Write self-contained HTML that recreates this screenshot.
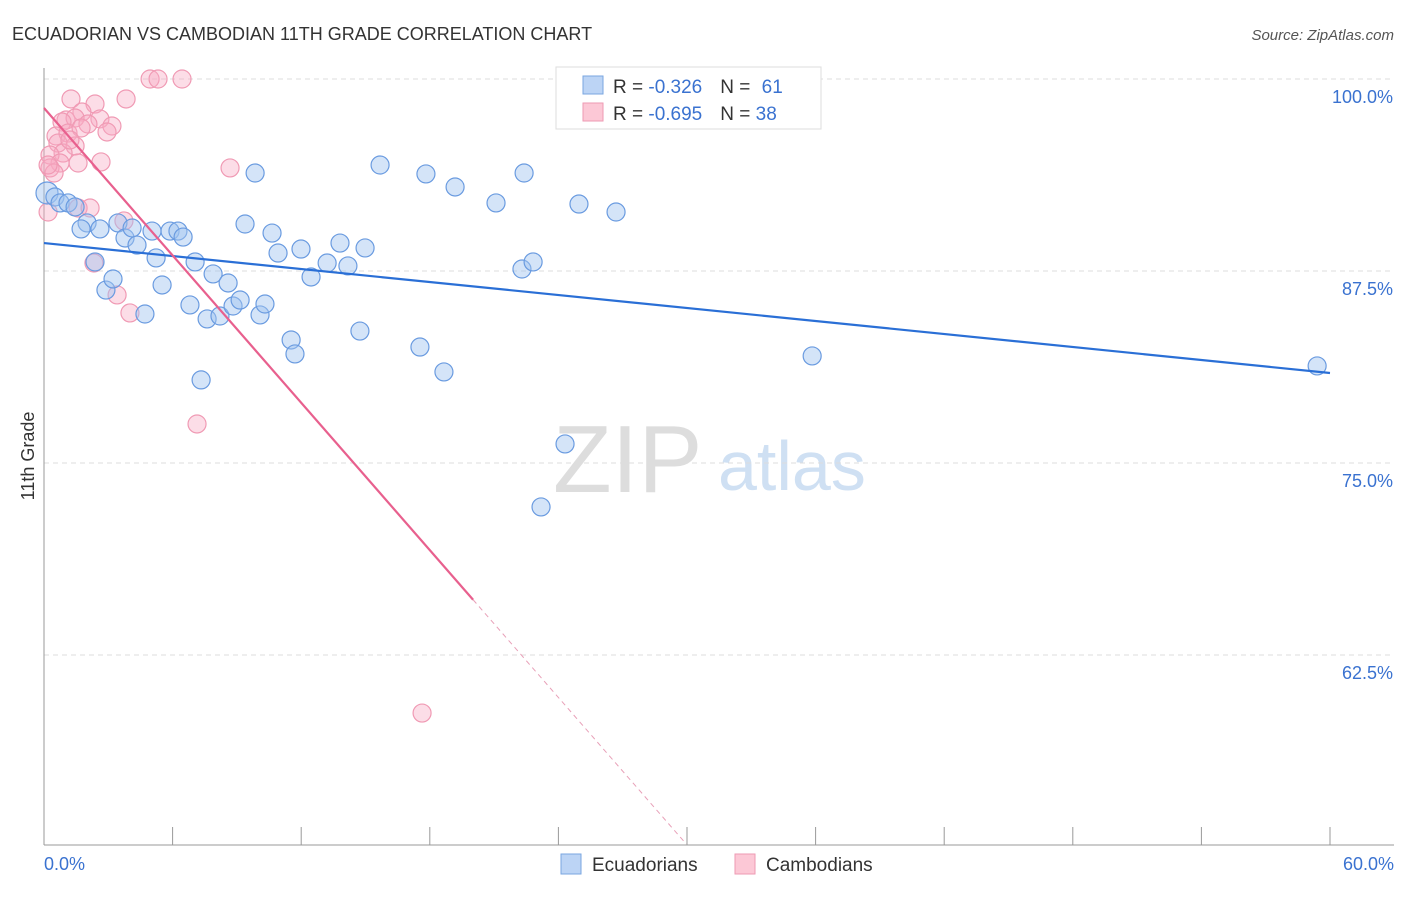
<!DOCTYPE html>
<html><head><meta charset="utf-8"><style>
body{margin:0;background:#fff;font-family:"Liberation Sans",sans-serif}
svg text{font-family:"Liberation Sans",sans-serif}
</style></head><body>
<svg id="chart" width="1406" height="892" viewBox="0 0 1406 892">
<text x="12" y="40" font-size="18" fill="#333">ECUADORIAN VS CAMBODIAN 11TH GRADE CORRELATION CHART</text>
<text x="1394" y="40" font-size="15" fill="#555" font-style="italic" text-anchor="end">Source: ZipAtlas.com</text>
<g>
<text x="553" y="492" font-size="96" fill="#ddd" font-family="Liberation Serif">ZIP</text>
<text x="718" y="490" font-size="70" fill="#cfe0f3">atlas</text>
</g>
<g id="grid"></g><g id="axes"></g><g id="marks"></g>
<text transform="translate(34,456) rotate(-90)" font-size="18" fill="#333" text-anchor="middle">11th Grade</text>
<g>
<rect x="556" y="67" width="265" height="62" fill="#fff" stroke="#ddd"/>
<rect x="583" y="76" width="20" height="18" fill="#bcd4f5" stroke="#7aa6e0"/>
<rect x="583" y="103" width="20" height="18" fill="#fcc8d6" stroke="#ee9ab3"/>
<text x="613" y="93" font-size="19" fill="#333">R = <tspan fill="#3a72d0">-0.326</tspan><tspan dx="18">N = </tspan><tspan fill="#3a72d0" dx="6">61</tspan></text>
<text x="613" y="120" font-size="19" fill="#333">R = <tspan fill="#3a72d0">-0.695</tspan><tspan dx="18">N = </tspan><tspan fill="#3a72d0">38</tspan></text>
</g>
<g>
<rect x="561" y="854" width="20" height="20" fill="#bcd4f5" stroke="#7aa6e0"/>
<text x="592" y="871" font-size="19" fill="#333">Ecuadorians</text>
<rect x="735" y="854" width="20" height="20" fill="#fcc8d6" stroke="#ee9ab3"/>
<text x="766" y="871" font-size="19" fill="#333">Cambodians</text>
</g>
</svg>
<script>
const yTicks=[100,87.5,75,62.5];
const yTickLabels=["100.0%","87.5%","75.0%","62.5%"];
const xEnds=["0.0%","60.0%"];
const blueX=[0.14,0.51,0.75,1.12,1.45,2.01,1.73,2.61,2.38,2.89,3.22,3.45,3.78,4.11,4.34,4.71,5.04,5.23,5.51,5.88,6.25,6.49,6.81,7.05,7.61,7.89,8.21,8.59,8.82,9.15,9.38,9.85,10.08,10.31,10.64,10.92,11.53,11.71,11.99,12.46,13.21,13.81,14.18,14.74,14.98,15.68,17.54,17.82,18.66,19.18,21.09,22.30,22.40,22.82,24.31,23.19,24.96,26.69,35.84,59.40,7.33];
const blueY=[92.58,92.32,91.93,91.93,91.67,90.63,90.24,90.24,88.09,86.26,86.98,90.63,89.65,90.30,89.19,84.70,90.10,88.35,86.59,90.10,90.10,89.71,85.29,88.09,84.38,87.31,84.57,86.72,85.22,85.61,90.56,93.88,84.64,85.35,89.97,88.67,83.01,82.10,88.93,87.11,88.02,89.32,87.83,83.59,89.00,94.40,82.55,93.82,80.93,92.97,91.93,87.63,93.88,88.09,76.24,72.14,91.86,91.34,81.97,81.32,80.41];
const pinkX=[4.95,5.32,6.44,1.26,2.38,3.83,1.77,1.03,1.45,0.84,2.61,3.17,2.05,2.94,0.56,1.12,1.73,0.65,1.45,0.89,0.28,0.75,1.59,2.66,0.28,0.47,8.68,1.59,0.19,3.73,2.33,3.41,4.01,7.14,17.64,0.19,1.21,2.15];
const pinkY=[100,100,100,98.70,98.37,98.70,97.85,97.33,97.46,97.20,97.40,96.94,97.07,96.55,96.29,96.48,96.81,95.83,95.64,95.18,95.05,94.53,94.53,94.60,94.21,93.88,94.21,91.60,91.34,90.76,88.02,85.94,84.77,77.54,58.72,94.40,96.03,91.60];
const blueLine=[89.32,80.86];
const pinkLine=[98.11,-1.599,20.02];
const X=v=>44+v/60*1286, Y=v=>79+(100-v)/12.5*192;
const NS="http://www.w3.org/2000/svg";
function mk(p,t,a){const e=document.createElementNS(NS,t);for(const k in a)e.setAttribute(k,a[k]);document.getElementById(p).appendChild(e);return e;}
yTicks.forEach((t,i)=>{
 const g=mk('grid','line',{x1:44,x2:1394,y1:Y(t),y2:Y(t),stroke:'#ddd','stroke-dasharray':'5,4'});
 
 
 const l=mk('axes','text',{x:1393,y:Y(t)+24,'font-size':18,fill:'#3a72d0','text-anchor':'end'});l.textContent=yTickLabels[i];
 
 
});
const ax=mk('axes','line',{x1:44,x2:44,y1:68,y2:845,stroke:'#999'});


const bx=mk('axes','line',{x1:44,x2:1394,y1:845,y2:845,stroke:'#999'});


for(let i=0;i<=10;i++){const t=mk('axes','line',{x1:X(i*6),x2:X(i*6),y1:827,y2:845,stroke:'#999'});
 
 }
[[0,'start',44],[60,'end',1394]].forEach((d,i)=>{const l=mk('axes','text',{x:d[2],y:870,'font-size':18,fill:'#3a72d0','text-anchor':d[1]});l.textContent=xEnds[i];
 
 });
pinkX.forEach((v,i)=>{const c=mk('marks','circle',{cx:X(v),cy:Y(pinkY[i]),r:9,fill:'rgba(248,170,195,0.4)',stroke:'#f09ab4','stroke-width':1.2});
 
 });
blueX.forEach((v,i)=>{const c=mk('marks','circle',{cx:X(v),cy:Y(blueY[i]),r:i==0?11:9,fill:'rgba(160,195,240,0.45)',stroke:'#6a9be0','stroke-width':1.2});
 
 });
const bl=mk('marks','line',{x1:X(0),y1:Y(blueLine[0]),x2:X(60),y2:Y(blueLine[1]),stroke:'#2a6fd6','stroke-width':2.2});


const pe=pinkLine[2], py=x=>pinkLine[0]+pinkLine[1]*x, xEnd=(50.2-pinkLine[0])/pinkLine[1];
const pl=mk('marks','line',{x1:X(0),y1:Y(py(0)),x2:X(pe),y2:Y(py(pe)),stroke:'#e8608e','stroke-width':2.2});


const pd=mk('marks','line',{x1:X(pe),y1:Y(py(pe)),x2:X(xEnd),y2:Y(py(xEnd)),stroke:'#e8a0b8','stroke-width':1,'stroke-dasharray':'5,4'});


</script>
</body></html>
